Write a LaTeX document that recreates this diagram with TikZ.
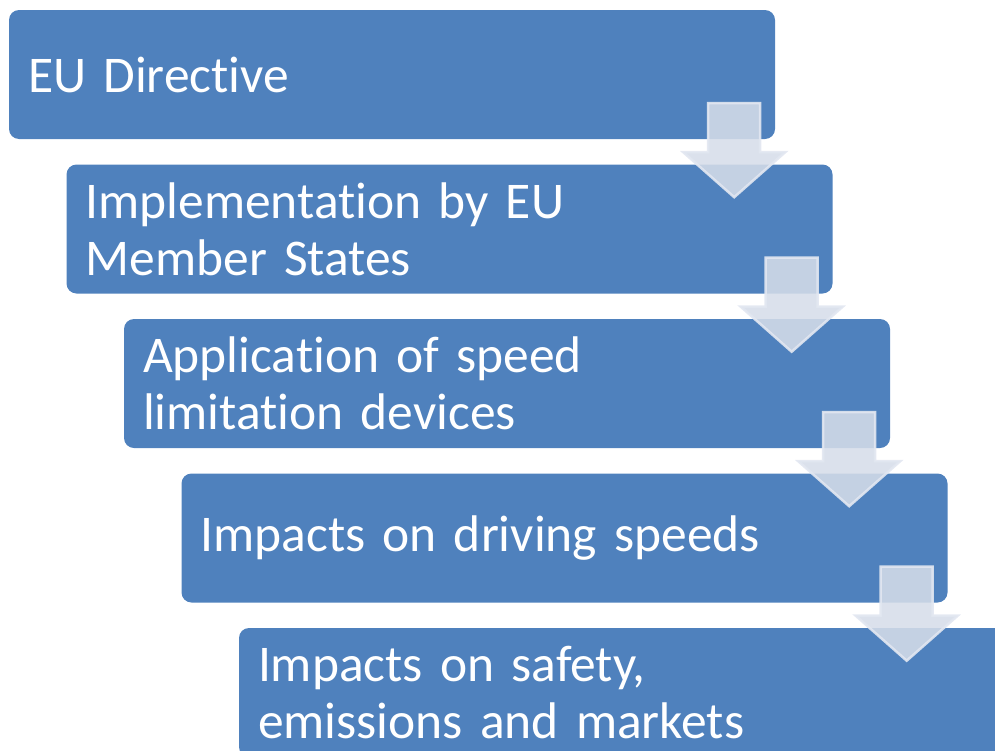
\documentclass[tikz,border=0pt]{standalone}
\usepackage{fontspec}
\setmainfont{Carlito}[Ligatures={NoCommon}]
\usepackage{tikz}
\usetikzlibrary{shapes}
\definecolor{stepblue}{RGB}{79,129,189}
\definecolor{arrowfill}{RGB}{214,221,233}
\definecolor{arrowline}{RGB}{226,231,241}
\newcommand{\stepfont}{\fontsize{51.5bp}{57bp}\selectfont}
\tikzset{
  stepbox/.style={fill=stepblue,rounded corners=10bp,minimum width=766bp,minimum height=129bp,
    inner xsep=19bp,text width=728bp,align=left,text=white,font=\stepfont},
  downarrow/.style={fill=arrowfill,fill opacity=0.87,draw=arrowline,draw opacity=0.9,line width=2.5bp,line join=miter}
}
\newcommand{\stepdown}[1]{\draw[downarrow,shift={(#1.south east)}] (-67bp,36bp) -- (-15bp,36bp) -- (-15bp,-13bp) -- (10bp,-13bp) -- (-41bp,-58bp) -- (-92bp,-13bp) -- (-67bp,-13bp) -- cycle;}

\begin{document}
\begin{tikzpicture}

\clip (0bp,0bp) rectangle (995bp,-751bp);

\node (S1) at (392bp,-74.5bp)[stepbox] {EU Directive};
\node (S2) at (449.5bp,-229bp)[stepbox] {Implementation by EU\\Member States};
\node (S3) at (507bp,-383.5bp)[stepbox] {Application of speed\\limitation devices};
\node (S4) at (564.5bp,-538bp)[stepbox] {Impacts on driving speeds};
\node (S5) at (622bp,-692.5bp)[stepbox] {Impacts on safety,\\emissions and markets};
\stepdown{S1}
\stepdown{S2}
\stepdown{S3}
\stepdown{S4}
\end{tikzpicture}
\end{document}
